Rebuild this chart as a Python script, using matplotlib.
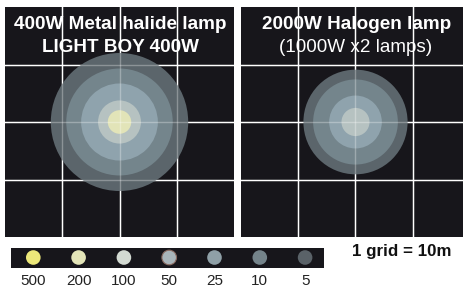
import matplotlib.pyplot as plt
from matplotlib.patches import Circle

W, H = 464, 287

# lux levels and ring radii (m)
left_levels = [5, 10, 25, 50, 200]
left_radii = [12.0, 9.3, 6.7, 3.75, 2.05]
right_levels = [5, 10, 25, 50]
right_radii = [9.1, 7.4, 4.6, 2.45]

legend_levels = [500, 200, 100, 50, 25, 10, 5]
legend_colors = ['#ede87a', '#e3e4b8', '#d3dad2', '#a9b5ba', '#8fa0a7', '#74838a', '#5a6268']
ring_colors = {5: '#5b656b', 10: '#74858c', 25: '#8fa3ad', 50: '#b6c2c1', 200: '#e2e4b8'}

bg = '#17161b'

def px(x, y):
    return x / W, 1 - y / H

def panel(x0, levels, radii):
    ax = fig.add_axes([x0 / W, 1 - 237 / H, 229 / W, 230 / H])
    ax.set_facecolor(bg)
    ax.set_xlim(0, 40)
    ax.set_ylim(0, 40)
    for r, lv in zip(radii, levels):
        ax.add_patch(Circle((20, 20), r, facecolor=ring_colors[lv], edgecolor='none', zorder=2))
    for g in [10, 20, 30]:
        ax.axvline(g, color='white', lw=1.0, zorder=1)
        ax.axhline(g, color='white', lw=1.0, zorder=1)
        ax.axvline(g, color='white', lw=1.0, alpha=0.3, zorder=3)
        ax.axhline(g, color='white', lw=1.0, alpha=0.3, zorder=3)
    ax.set_xticks([])
    ax.set_yticks([])
    for s in ax.spines.values():
        s.set_visible(False)
    return ax

fig = plt.figure(figsize=(W / 100, H / 100), dpi=100)
fig.patch.set_facecolor('white')

panel(5, left_levels, left_radii)
panel(241, right_levels, right_radii)

fs = 13.6
fig.text(*px(120, 29), '400W Metal halide lamp', color='white', fontsize=fs,
         fontweight='bold', family='Liberation Sans', ha='center', va='baseline')
fig.text(*px(120, 52), 'LIGHT BOY 400W', color='white', fontsize=fs,
         fontweight='bold', family='Liberation Sans', ha='center', va='baseline')
fig.text(*px(357, 29), '2000W Halogen lamp', color='white', fontsize=fs,
         fontweight='bold', family='Liberation Sans', ha='center', va='baseline')
fig.text(*px(356, 52), '(1000W x2 lamps)', color='white', fontsize=fs,
         family='Liberation Sans', ha='center', va='baseline')

# legend strip
lax = fig.add_axes([11 / W, 1 - 268 / H, 313 / W, 20 / H])
lax.set_facecolor(bg)
lax.set_xlim(11, 324)
lax.set_ylim(0, 20)
lax.set_aspect('equal')
for i, (lv, c) in enumerate(zip(legend_levels, legend_colors)):
    xc = 33.3 + i * 45.3
    ec = '#8a6a60' if lv == 50 else 'none'
    lax.add_patch(Circle((xc, 10.5), 7.3, facecolor=c, edgecolor=ec, lw=0.8))
    fig.text(*px(xc, 285), str(lv), fontsize=11, color='#222222',
             family=['Liberation Sans Narrow', 'Liberation Sans'], ha='center', va='baseline')
lax.set_xticks([])
lax.set_yticks([])
for s in lax.spines.values():
    s.set_visible(False)

fig.text(*px(402, 256), '1 grid = 10m', fontsize=12.2, fontweight='bold',
         color='#111111', family='Liberation Sans', ha='center', va='baseline')

fig.savefig('out.png', dpi=100)
